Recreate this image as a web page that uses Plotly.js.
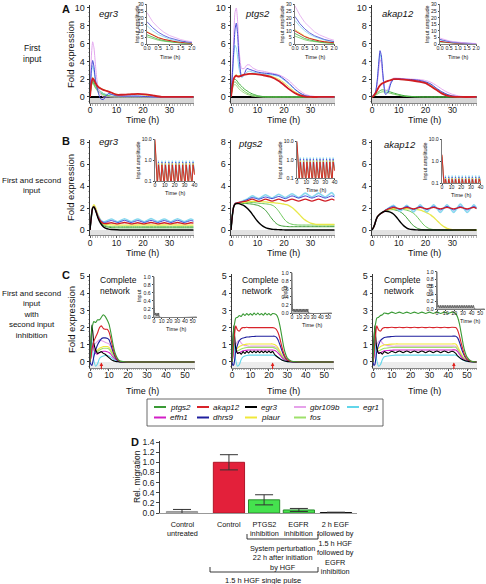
<!DOCTYPE html>
<html><head><meta charset="utf-8">
<script src="https://cdn.plot.ly/plotly-3.0.1.min.js"></script>
<style>html,body{margin:0;padding:0;background:#fff}#chart{width:486px;height:584px}</style>
</head><body><div id="chart"></div>
<script>
// ================= DATA =================
// Panel A (first input) - time points and curves
const tA1 = [0,0.5,1,1.5,2,2.5,3,4,5,6,7,8,10,12,15,18,21,24,27,30,39];
const pinkA1 = [0,4.5,6.2,5.5,3.8,2.2,1.2,0.3,0,0,0,0,0,0,0,0,0,0,0,0,0];
const blueA1 = [0,3.0,4.1,3.4,2.0,1.2,0.6,-0.2,-0.3,0.1,0.4,0.3,0.15,0.1,0.1,0.1,0.05,0,0,0,0];
const cyanA1 = [0,2.6,3.5,2.9,2.0,1.4,1.0,0.6,0.4,0.3,0.3,0.25,0.15,0.1,0.1,0.1,0.05,0,0,0,0];
const yellowA1 = [0,1.6,2.2,2.0,1.7,1.4,1.2,1.0,0.85,0.75,0.6,0.5,0.3,0.25,0.3,0.3,0.2,0.1,0.02,0,0];
const redA1 = [0,1.5,2.1,1.9,1.6,1.35,1.15,0.95,0.8,0.7,0.6,0.5,0.25,0.25,0.3,0.35,0.3,0.15,0.02,0,0];
const green1A1 = [0,1.4,1.9,1.6,1.3,1.1,0.9,0.6,0.4,0.25,0.15,0.08,0.02,0,0,0,0,0,0,0,0];
const green2A1 = [0,1.3,1.7,1.4,1.1,0.9,0.7,0.45,0.3,0.15,0.08,0.04,0,0,0,0,0,0,0,0,0];
const green3A1 = [0,1.2,1.6,1.3,1.0,0.8,0.6,0.35,0.2,0.1,0.05,0.02,0,0,0,0,0,0,0,0,0];

const tA2 = [0,0.5,1,1.5,2,2.5,3,4,5,6,7,8,10,12,15,18,20,22,24,26,28,30,33,39];
const pinkA2 = [0,3,6.5,9.5,10,8.5,5.5,3.2,3.2,3.6,3.6,3.3,3.0,2.9,2.7,2.5,2.2,1.8,1.2,0.7,0.3,0.12,0.02,0];
const blueA2 = [0,2.5,5,7.5,8.3,7,4.5,2.3,2.6,3.2,3.1,3.0,2.8,2.7,2.6,2.4,2.0,1.5,0.9,0.45,0.15,0.05,0,0];
const cyanA2 = [0,2,4.5,5.8,5.5,4.5,3.2,2.2,2.4,2.8,2.9,2.8,2.7,2.6,2.5,2.3,1.9,1.4,0.85,0.4,0.12,0.04,0,0];
const redA2 = [0,1.2,2.0,2.3,2.4,2.3,2.3,2.4,2.5,2.55,2.6,2.6,2.55,2.45,2.25,1.8,1.35,0.85,0.45,0.18,0.05,0,0,0];
const yellowA2 = [0,1.3,2.1,2.4,2.5,2.4,2.4,2.45,2.5,2.55,2.6,2.6,2.55,2.5,2.35,2.0,1.6,1.1,0.6,0.25,0.08,0.02,0,0];
const green1A2 = [0,1.2,1.9,2.0,1.9,1.7,1.5,1.2,0.9,0.7,0.5,0.35,0.15,0.05,0,0,0,0,0,0,0,0,0,0];
const green2A2 = [0,1.0,1.6,1.7,1.6,1.4,1.2,0.9,0.65,0.45,0.3,0.2,0.08,0.02,0,0,0,0,0,0,0,0,0,0];
const green3A2 = [0,0.8,1.3,1.4,1.3,1.1,0.9,0.65,0.45,0.3,0.2,0.1,0.03,0,0,0,0,0,0,0,0,0,0,0];

const tA3 = [0,0.5,1,1.5,2,2.5,3,3.5,4,4.5,5,6,7,8,10,12,15,18,20,22,24,26,28,30,33,39];
const blueA3 = [0,0.2,0.3,0.8,2.0,3.8,5.2,4.6,2.8,1.2,0.3,0.5,1.5,2.0,2.05,2.0,1.95,1.85,1.7,1.45,1.0,0.6,0.3,0.12,0.02,0];
const cyanA3 = [0,0.2,0.3,0.8,1.9,3.5,4.8,4.2,2.6,1.2,0.5,0.7,1.5,1.95,2.0,1.95,1.9,1.8,1.65,1.4,0.95,0.55,0.28,0.1,0.02,0];
const pinkA3 = [0,0.15,0.3,0.7,1.6,3.0,4.2,3.8,2.4,1.2,0.7,0.9,1.7,2.1,2.1,2.05,2.0,1.95,1.85,1.65,1.3,0.9,0.55,0.3,0.08,0];
const redA3 = [0,0.1,0.3,0.5,0.8,1.1,1.3,1.45,1.55,1.6,1.7,1.8,1.9,2.0,2.0,1.95,1.85,1.7,1.55,1.2,0.8,0.4,0.15,0.05,0,0];
const yellowA3 = [0,0.1,0.3,0.5,0.8,1.1,1.3,1.45,1.55,1.6,1.7,1.8,1.9,2.0,2.0,1.95,1.85,1.75,1.6,1.3,0.9,0.5,0.2,0.07,0,0];
const green1A3 = [0,0.1,0.2,0.3,0.45,0.6,0.7,0.78,0.8,0.78,0.75,0.65,0.55,0.45,0.28,0.15,0.05,0.01,0,0,0,0,0,0,0,0];
const green2A3 = [0,0.08,0.15,0.22,0.32,0.42,0.5,0.55,0.58,0.57,0.55,0.48,0.4,0.32,0.18,0.08,0.02,0,0,0,0,0,0,0,0,0];

// Panel A insets (input amplitude)
const tAi = [0,0.25,0.5,0.75,1,1.25,1.5,1.75,2];
const pinkAi1 = [24,17,12.5,9,6.5,4.8,3.4,2.4,1.7];
const blueAi1 = [17,12.5,9,6.5,4.7,3.4,2.4,1.7,1.2];
const cyanAi1 = [14,10,7.2,5.2,3.7,2.7,1.9,1.4,1.0];
const yellowAi1 = [9.5,7,5,3.6,2.6,1.9,1.35,1,0.7];
const redAi1 = [9,6.6,4.8,3.5,2.5,1.8,1.3,0.9,0.6];
const greenAi1 = [7,5,3.6,2.6,1.8,1.3,0.9,0.65,0.45];
const green2Ai1 = [5.5,4,2.9,2.1,1.5,1.05,0.75,0.55,0.4];
const pinkAi2 = [29,22,16.5,12.5,9.3,7,5.2,3.9,2.9];
const blueAi2 = [21,15.5,11.5,8.5,6.3,4.7,3.5,2.6,1.9];
const cyanAi2 = [18,13.5,10,7.4,5.5,4.1,3,2.2,1.7];
const yellowAi2 = [11,8.2,6.1,4.5,3.4,2.5,1.9,1.4,1];
const redAi2 = [10,7.5,5.6,4.2,3.1,2.3,1.7,1.3,1];
const greenAi2 = [8,5.8,4.2,3.1,2.2,1.6,1.2,0.85,0.6];
const green2Ai2 = [6,4.4,3.2,2.3,1.7,1.2,0.9,0.65,0.45];
const pinkAi3 = [4.5,3.3,2.4,1.8,1.3,1,0.7,0.5,0.4];
const blueAi3 = [3.5,2.6,1.9,1.4,1,0.75,0.55,0.4,0.3];
const cyanAi3 = [3,2.2,1.6,1.2,0.9,0.65,0.48,0.35,0.25];
const redAi3 = [2,1.5,1.1,0.8,0.6,0.45,0.32,0.24,0.18];
const greenAi3 = [1.5,1.1,0.8,0.6,0.44,0.32,0.24,0.18,0.13];

// Panel B (first and second input)
const tBo = [0,0.5,1,1.5,2,3,4,5,6,8,10.5,13,15.5,18,20.5,23,25.5,28,30.5,33,35.5,38,39];
const cyanB1 = [0,1.2,2.0,2.1,1.9,1.3,0.9,0.75,0.8,1.0,0.75,1.02,0.76,1.0,0.75,1.03,0.76,1.0,0.75,1.02,0.76,1.0,0.9];
const blueB1 = [0,1.2,2.0,2.1,1.9,1.3,0.85,0.7,0.7,0.86,0.68,0.88,0.68,0.86,0.68,0.88,0.68,0.86,0.68,0.88,0.68,0.86,0.8];
const redB1 = [0,1.2,2.0,2.1,1.9,1.2,0.8,0.6,0.58,0.66,0.55,0.68,0.55,0.66,0.55,0.68,0.55,0.66,0.55,0.68,0.55,0.66,0.62];
const tBd = [0,0.5,1,1.5,2,3,4,5,6,7,8,10,12,15,20,25,30,35,39];
const yellowB1 = [0,1.3,2.1,2.3,2.1,1.4,0.9,0.6,0.5,0.48,0.46,0.45,0.44,0.45,0.46,0.45,0.46,0.45,0.45];
const greenB1 = [0,1.2,2.0,2.1,1.9,1.2,0.75,0.5,0.38,0.33,0.3,0.3,0.3,0.3,0.3,0.3,0.3,0.3,0.3];
const dkgreenB1 = [0,1.2,2.0,2.1,1.9,1.15,0.7,0.42,0.3,0.25,0.22,0.2,0.2,0.2,0.2,0.2,0.2,0.2,0.2];
const blackB1 = [0,1.2,2.0,2.1,1.85,1.1,0.6,0.3,0.15,0.08,0.05,0.02,0,0,0,0,0,0,0];

const cyanB2 = [0,1.3,2.1,2.4,2.45,2.5,2.6,2.7,2.8,3.1,2.85,3.2,2.9,3.25,2.95,3.3,2.95,3.35,3.0,3.35,3.0,3.4,3.1];
const blueB2 = [0,1.3,2.1,2.4,2.45,2.5,2.55,2.65,2.75,2.95,2.8,3.0,2.85,3.05,2.85,3.1,2.9,3.1,2.9,3.1,2.9,3.1,3.0];
const redB2 = [0,1.3,2.1,2.4,2.45,2.5,2.55,2.6,2.65,2.8,2.6,2.8,2.62,2.8,2.62,2.8,2.62,2.8,2.62,2.8,2.62,2.8,2.7];
const tBd2 = [0,0.5,1,1.5,2,3,4,5,6,7,8,9,10,11,12,13,14,15,16,17,18,19,20,21,22,23,24,25,26,27,28,29,30,32,34,36,39];
const blackB2 = [0,1.3,2.1,2.35,2.4,2.4,2.3,2.2,2.0,1.75,1.45,1.1,0.8,0.55,0.35,0.22,0.14,0.09,0.06,0.04,0.03,0.02,0.01,0,0,0,0,0,0,0,0,0,0,0,0,0,0];
const dkgreenB2 = [0,1.3,2.1,2.35,2.4,2.42,2.42,2.42,2.4,2.38,2.35,2.3,2.25,2.15,2.0,1.8,1.5,1.15,0.85,0.6,0.45,0.38,0.34,0.32,0.3,0.3,0.3,0.3,0.3,0.3,0.3,0.3,0.3,0.3,0.3,0.3,0.3];
const greenB2 = [0,1.3,2.1,2.35,2.4,2.45,2.45,2.48,2.5,2.5,2.5,2.48,2.45,2.42,2.4,2.38,2.35,2.3,2.2,2.0,1.7,1.35,1.0,0.75,0.6,0.52,0.48,0.46,0.45,0.45,0.45,0.45,0.45,0.45,0.45,0.45,0.45];
const yellowB2 = [0,1.3,2.1,2.35,2.4,2.45,2.5,2.52,2.55,2.58,2.6,2.6,2.6,2.58,2.56,2.55,2.52,2.5,2.48,2.45,2.42,2.4,2.35,2.3,2.2,2.05,1.85,1.6,1.35,1.1,0.9,0.75,0.62,0.52,0.5,0.5,0.5];

const cyanB3 = [0,0.2,0.5,0.9,1.2,1.45,1.6,1.8,1.95,2.25,1.7,2.25,1.65,2.3,1.65,2.3,1.6,2.3,1.6,2.35,1.6,2.3,2.0];
const blueB3 = [0,0.2,0.5,0.9,1.2,1.45,1.6,1.8,1.95,2.15,1.85,2.15,1.85,2.15,1.85,2.15,1.82,2.15,1.82,2.15,1.82,2.15,2.0];
const redB3 = [0,0.2,0.5,0.9,1.2,1.45,1.6,1.8,1.9,2.05,1.92,2.05,1.92,2.05,1.92,2.05,1.92,2.05,1.92,2.05,1.92,2.05,1.95];
const blackB3 = [0,0.2,0.5,0.9,1.2,1.45,1.62,1.7,1.68,1.6,1.45,1.2,0.9,0.6,0.35,0.18,0.08,0.04,0.02,0.01,0,0,0,0,0,0,0,0,0,0,0,0,0,0,0,0,0];
const dkgreenB3 = [0,0.2,0.5,0.9,1.2,1.45,1.62,1.75,1.82,1.85,1.85,1.8,1.72,1.58,1.38,1.1,0.8,0.5,0.3,0.15,0.07,0.03,0.01,0,0,0,0,0,0,0,0,0,0,0,0,0,0];
const greenB3 = [0,0.2,0.5,0.9,1.2,1.45,1.62,1.75,1.85,1.9,1.92,1.92,1.9,1.88,1.85,1.8,1.72,1.6,1.42,1.15,0.85,0.55,0.32,0.17,0.08,0.04,0.02,0.01,0,0,0,0,0,0,0,0,0];
const yellowB3 = [0,0.2,0.5,0.9,1.2,1.45,1.62,1.75,1.85,1.9,1.92,1.95,1.95,1.95,1.95,1.93,1.92,1.9,1.88,1.85,1.8,1.72,1.62,1.5,1.35,1.15,0.92,0.68,0.45,0.28,0.15,0.08,0.04,0.01,0,0,0];

// Panel B insets (input amplitude, log)
const tBi = [0,2.4,3.5,5.9,7,9.4,10.5,12.9,14,16.4,17.5,19.9,21,23.4,24.5,26.9,28,30.4,31.5,33.9,35,37.4,38.5,40];
const redBi1 = [10,0.06,0.6,0.06,0.6,0.06,0.6,0.06,0.6,0.06,0.6,0.06,0.6,0.06,0.6,0.06,0.6,0.06,0.6,0.06,0.6,0.06,0.6,0.2];
const yellowBi1 = [8,0.06,0.72,0.06,0.72,0.06,0.72,0.06,0.72,0.06,0.72,0.06,0.72,0.06,0.72,0.06,0.72,0.06,0.72,0.06,0.72,0.06,0.72,0.22];
const blueBi1 = [6,0.07,0.82,0.07,0.82,0.07,0.82,0.07,0.82,0.07,0.82,0.07,0.82,0.07,0.82,0.07,0.82,0.07,0.82,0.07,0.82,0.07,0.82,0.25];
const cyanBi1 = [5,0.08,0.95,0.08,0.95,0.08,0.95,0.08,0.95,0.08,0.95,0.08,0.95,0.08,0.95,0.08,0.95,0.08,0.95,0.08,0.95,0.08,0.95,0.3];
const redBi2 = [10,0.06,0.75,0.06,0.75,0.06,0.75,0.06,0.75,0.06,0.75,0.06,0.75,0.06,0.75,0.06,0.75,0.06,0.75,0.06,0.75,0.06,0.75,0.25];
const yellowBi2 = [8,0.06,0.9,0.06,0.9,0.06,0.9,0.06,0.9,0.06,0.9,0.06,0.9,0.06,0.9,0.06,0.9,0.06,0.9,0.06,0.9,0.06,0.9,0.28];
const blueBi2 = [6,0.07,1.1,0.07,1.1,0.07,1.1,0.07,1.1,0.07,1.1,0.07,1.1,0.07,1.1,0.07,1.1,0.07,1.1,0.07,1.1,0.07,1.1,0.32];
const cyanBi2 = [5,0.08,1.3,0.08,1.3,0.08,1.3,0.08,1.3,0.08,1.3,0.08,1.3,0.08,1.3,0.08,1.3,0.08,1.3,0.08,1.3,0.08,1.3,0.36];
const redBi3 = [2,0.05,0.15,0.05,0.15,0.05,0.15,0.05,0.15,0.05,0.15,0.05,0.15,0.05,0.15,0.05,0.15,0.05,0.15,0.05,0.15,0.05,0.15,0.1];
const yellowBi3 = [1.8,0.05,0.17,0.05,0.17,0.05,0.17,0.05,0.17,0.05,0.17,0.05,0.17,0.05,0.17,0.05,0.17,0.05,0.17,0.05,0.17,0.05,0.17,0.11];
const blueBi3 = [1.6,0.05,0.19,0.05,0.19,0.05,0.19,0.05,0.19,0.05,0.19,0.05,0.19,0.05,0.19,0.05,0.19,0.05,0.19,0.05,0.19,0.05,0.19,0.12];
const cyanBi3 = [1.5,0.05,0.22,0.05,0.22,0.05,0.22,0.05,0.22,0.05,0.22,0.05,0.22,0.05,0.22,0.05,0.22,0.05,0.22,0.05,0.22,0.05,0.22,0.13];

// Panel C (complete network, second input inhibited)
const tC1 = [0,0.5,1,1.5,2,3,4,5,6,7,8,9,10,11,12,13,14,15,16,18,20,30,40,55];
const ptgs2C1 = [0,1.2,1.9,2.2,2.35,2.3,2.45,2.45,2.6,2.75,2.65,2.45,2.2,1.7,1.1,0.6,0.3,0.12,0.05,0.01,0,0,0,0];
const akap12C1 = [0,0.3,0.7,1.0,1.2,1.45,1.7,2.0,2.1,1.95,1.9,1.9,1.75,1.35,0.85,0.45,0.2,0.08,0.03,0.01,0,0,0,0];
const dhrs9C1 = [0,-0.15,-0.2,0,0.3,0.7,1.0,1.2,1.35,1.4,1.4,1.38,1.3,1.0,0.65,0.35,0.15,0.06,0.02,0,0,0,0,0];
const egr3C1 = [0,1.2,2.15,1.7,1.1,0.7,0.5,0.55,0.6,0.5,0.45,0.35,0.25,0.15,0.08,0.04,0.02,0.01,0,0,0,0,0,0];
const gbr109bC1 = [0,0.3,0.6,0.8,1.0,1.1,1.2,1.3,1.25,1.2,1.15,1.1,1.05,0.85,0.6,0.35,0.17,0.07,0.02,0,0,0,0,0];
const plaurC1 = [0,0.4,0.9,0.8,0.7,0.65,0.7,0.8,0.85,0.9,0.9,0.9,0.85,0.7,0.5,0.3,0.15,0.06,0.02,0,0,0,0,0];
const fosC1 = [0,0.5,1.0,0.9,0.7,0.6,0.6,0.7,0.75,0.8,0.8,0.8,0.75,0.6,0.42,0.25,0.12,0.05,0.02,0,0,0,0,0];
const effn1C1 = [0,0.3,0.9,1.1,0.8,0.5,0.45,0.55,0.6,0.62,0.62,0.6,0.55,0.45,0.3,0.18,0.08,0.03,0.01,0,0,0,0,0];
const egr1C1 = [0,0.8,1.3,0.6,0.1,-0.25,-0.1,0.2,0.3,0.35,0.38,0.38,0.35,0.28,0.18,0.1,0.05,0.02,0,0,0,0,0,0];

const tC2 = [0,0.5,1,1.5,2,3,4,5,6,7,8,9,10,11,12,13,14,15,16,17,18,19,20,21,22,23,24,25,26,27,28,29,30,32,35,40,55];
const ptgs2C2 = [0,1.2,2.0,2.3,2.55,2.6,2.7,2.65,2.8,2.7,2.82,2.72,2.82,2.72,2.84,2.74,2.84,2.74,2.82,2.72,2.84,2.74,2.82,2.72,2.82,2.8,2.75,2.55,2.1,1.5,0.9,0.48,0.22,0.06,0.01,0,0];
const akap12C2 = [0,0.5,1.2,1.7,2.1,1.85,1.8,1.95,2.0,2.0,2.02,2.0,2.0,2.0,2.0,2.0,2.0,2.0,2.0,2.0,2.0,2.0,2.0,2.0,2.0,1.98,1.9,1.7,1.35,0.9,0.52,0.27,0.12,0.03,0.01,0,0];
const dhrs9C2 = [0,-0.2,-0.15,0.2,0.6,1.0,1.25,1.35,1.4,1.42,1.45,1.45,1.47,1.48,1.48,1.5,1.5,1.5,1.5,1.5,1.5,1.5,1.5,1.5,1.5,1.5,1.45,1.28,1.0,0.68,0.4,0.2,0.09,0.02,0,0,0];
const egr3C2 = [0,1.3,2.1,1.4,0.8,0.5,0.55,0.45,0.6,0.5,0.62,0.52,0.64,0.54,0.64,0.54,0.64,0.54,0.64,0.54,0.64,0.54,0.64,0.54,0.62,0.45,0.35,0.26,0.18,0.12,0.07,0.04,0.02,0.01,0,0,0];
const gbr109bC2 = [0,0.3,0.6,0.8,1.0,1.2,1.25,1.1,1.0,0.95,0.95,0.92,0.92,0.92,0.92,0.92,0.92,0.92,0.92,0.92,0.92,0.92,0.92,0.92,0.92,0.9,0.85,0.75,0.58,0.4,0.24,0.12,0.06,0.01,0,0,0];
const plaurC2 = [0,0.4,0.9,0.8,0.75,0.8,0.9,0.95,1.0,1.02,1.04,1.05,1.05,1.05,1.05,1.05,1.05,1.05,1.05,1.05,1.05,1.05,1.05,1.05,1.05,1.02,0.95,0.82,0.62,0.42,0.25,0.13,0.06,0.01,0,0,0];
const fosC2 = [0,0.5,1.0,0.85,0.7,0.65,0.7,0.75,0.8,0.82,0.84,0.85,0.85,0.85,0.85,0.85,0.85,0.85,0.85,0.85,0.85,0.85,0.85,0.85,0.85,0.82,0.76,0.65,0.5,0.34,0.2,0.1,0.05,0.01,0,0,0];
const effn1C2 = [0,0.3,0.9,1.1,0.8,0.55,0.55,0.6,0.65,0.67,0.68,0.7,0.7,0.7,0.7,0.7,0.7,0.7,0.7,0.7,0.7,0.7,0.7,0.7,0.7,0.68,0.62,0.52,0.4,0.27,0.16,0.08,0.04,0.01,0,0,0];
const egr1C2 = [0,0.8,1.3,0.6,0.1,-0.25,-0.15,0.15,0.3,0.35,0.38,0.4,0.4,0.4,0.4,0.4,0.4,0.4,0.4,0.4,0.4,0.4,0.4,0.4,0.4,0.38,0.34,0.28,0.2,0.13,0.08,0.04,0.02,0,0,0,0];

const tC3 = [0,0.5,1,1.5,2,3,4,5,6,8,10,12,14,16,18,20,22,24,26,28,30,32,34,36,38,40,42,44,45,46,47,48,49,50,52,55];
const ptgs2C3 = [0,1.2,2.0,2.3,2.55,2.6,2.7,2.75,2.85,2.8,2.9,2.82,2.9,2.82,2.9,2.82,2.9,2.82,2.9,2.82,2.9,2.82,2.9,2.82,2.9,2.82,2.9,2.82,2.6,2.2,1.6,1.0,0.55,0.28,0.06,0];
const akap12C3 = [0,0.5,1.2,1.7,2.1,1.85,1.8,1.95,2.0,2.0,2.02,2.0,2.02,2.0,2.02,2.0,2.02,2.0,2.02,2.0,2.02,2.0,2.02,2.0,2.02,2.0,2.02,2.0,1.85,1.5,1.05,0.65,0.35,0.18,0.04,0];
const dhrs9C3 = [0,-0.2,-0.15,0.2,0.6,1.0,1.25,1.35,1.42,1.46,1.48,1.5,1.5,1.5,1.5,1.5,1.5,1.5,1.5,1.5,1.5,1.5,1.5,1.5,1.5,1.5,1.5,1.5,1.4,1.15,0.8,0.5,0.28,0.14,0.03,0];
const egr3C3 = [0,1.3,2.1,1.4,0.8,0.5,0.55,0.45,0.6,0.5,0.62,0.54,0.64,0.54,0.64,0.54,0.64,0.54,0.64,0.54,0.64,0.54,0.64,0.54,0.64,0.54,0.62,0.5,0.35,0.25,0.17,0.11,0.07,0.04,0.01,0];
const gbr109bC3 = [0,0.3,0.6,0.8,1.0,1.2,1.25,1.1,1.0,0.95,0.92,0.92,0.92,0.92,0.92,0.92,0.92,0.92,0.92,0.92,0.92,0.92,0.92,0.92,0.92,0.92,0.92,0.92,0.8,0.6,0.4,0.25,0.14,0.07,0.02,0];
const plaurC3 = [0,0.4,0.9,0.8,0.75,0.8,0.9,0.95,1.0,1.02,1.04,1.05,1.05,1.05,1.05,1.05,1.05,1.05,1.05,1.05,1.05,1.05,1.05,1.05,1.05,1.05,1.05,1.05,0.9,0.68,0.46,0.28,0.16,0.08,0.02,0];
const fosC3 = [0,0.5,1.0,0.85,0.7,0.65,0.7,0.75,0.8,0.82,0.84,0.85,0.85,0.85,0.85,0.85,0.85,0.85,0.85,0.85,0.85,0.85,0.85,0.85,0.85,0.85,0.85,0.85,0.72,0.55,0.37,0.22,0.12,0.06,0.01,0];
const effn1C3 = [0,0.3,0.9,1.1,0.8,0.55,0.55,0.6,0.65,0.67,0.68,0.7,0.7,0.7,0.7,0.7,0.7,0.7,0.7,0.7,0.7,0.7,0.7,0.7,0.7,0.7,0.7,0.7,0.6,0.45,0.3,0.18,0.1,0.05,0.01,0];
const egr1C3 = [0,0.8,1.3,0.6,0.1,-0.25,-0.15,0.15,0.3,0.35,0.38,0.4,0.4,0.4,0.4,0.4,0.4,0.4,0.4,0.4,0.4,0.4,0.4,0.4,0.4,0.4,0.4,0.4,0.34,0.26,0.17,0.1,0.06,0.03,0.01,0];
const inhibitTimes = [6, 22, 43];

// Panel C insets (input)
const tCi1 = [0,0.3,1,2,3,4,5,6,7,55];
const inCi1 = [1.0,0.35,0.05,0.1,0.03,0.1,0.03,0.1,0,0];
const tCi2 = [0,0.3,1,2,3,4,5,6,7,8,9,10,11,12,13,14,15,16,17,18,19,20,21,22,23,55];
const inCi2 = [1.0,0.35,0.05,0.1,0.03,0.1,0.03,0.1,0.03,0.1,0.03,0.1,0.03,0.1,0.03,0.1,0.03,0.1,0.03,0.1,0.03,0.1,0.03,0.1,0,0];
const tCi3 = [0,0.3,1,2,3,4,5,6,7,8,9,10,11,12,13,14,15,16,17,18,19,20,21,22,23,24,25,26,27,28,29,30,31,32,33,34,35,36,37,38,39,40,41,42,43,44,55];
const inCi3 = [1.0,0.35,0.05,0.1,0.03,0.1,0.03,0.1,0.03,0.1,0.03,0.1,0.03,0.1,0.03,0.1,0.03,0.1,0.03,0.1,0.03,0.1,0.03,0.1,0.03,0.1,0.03,0.1,0.03,0.1,0.03,0.1,0.03,0.1,0.03,0.1,0.03,0.1,0.03,0.1,0.03,0.1,0.03,0.1,0.03,0,0];

// Legend genes
const legendRow1 = ['ptgs2','akap12','egr3','gbr109b','egr1'];
const legendRow2 = ['effn1','dhrs9','plaur','fos'];

// Panel D (relative migration)
const dLabels = ['Control<br>untreated','Control','PTGS2<br>inhibition','EGFR<br>inhibition','2 h EGF<br>followed by<br>1.5 h HGF<br>followed by<br>EGFR<br>inhibition'];
const dValues = [0.03, 1.0, 0.26, 0.06, 0.01];
const dErrors = [0.04, 0.15, 0.1, 0.03, 0.006];

// ================= STYLE / LAYOUT =================
const W = 486, H = 584;
const FONT = 'Liberation Sans, Arial, Helvetica, sans-serif';
const GC = {ptgs2:'#3a9a35', akap12:'#d8232a', egr3:'#000000', gbr109b:'#e6a2ea', egr1:'#62d6ea',
            effn1:'#d21fc6', dhrs9:'#1f1f9e', plaur:'#f0e83a', fos:'#9ee06a'};
const AC = {pink:'#e2a4ee', blue:'#4545d4', cyan:'#88d8ef', red:'#d01c24', yellow:'#e8e84a',
            g1:'#3fae3a', g2:'#6cc85a', g3:'#a0da86', dk:'#3c9c36', black:'#000'};
const fx = p => p / W;
const fy = p => 1 - p / H;
const sfx = n => (n === 1 ? '' : String(n));

const traces = [];
const L = {
  width: W, height: H, margin: {l:0, r:0, t:0, b:0},
  paper_bgcolor: '#fff', plot_bgcolor: 'rgba(0,0,0,0)',
  showlegend: false, hovermode: false,
  font: {family: FONT, size: 9, color: '#111'},
  shapes: [], annotations: []
};

function addLines(n, t, list, shape) {
  list.forEach(s => traces.push({
    type: 'scatter', mode: 'lines', x: t, y: s[0],
    xaxis: 'x' + sfx(n), yaxis: 'y' + sfx(n),
    line: {color: s[1], width: s[2] || 1, shape: shape || 'spline', smoothing: 0.6},
    hoverinfo: 'skip', cliponaxis: true
  }));
}

function mainAxes(n, xpx, ypx, xr, yr, xdt, ydt, band, bandColor, zero) {
  L['xaxis' + sfx(n)] = {
    domain: [fx(xpx[0]), fx(xpx[1])], range: xr, anchor: 'y' + sfx(n),
    showline: true, linecolor: '#666', linewidth: 0.8, ticks: 'outside', ticklen: 2, tickcolor: '#555',
    tick0: 0, dtick: xdt, tickfont: {size: 8.5, color:'#222'}, showgrid: false, zeroline: false,
    ticklabelstandoff: -3,
    minor: {ticks: 'outside', ticklen: 1.5, dtick: xdt / 10, tickcolor: '#888', tickwidth: 0.6}
  };
  L['yaxis' + sfx(n)] = {
    domain: [fy(ypx[1]), fy(ypx[0])], range: yr, anchor: 'x' + sfx(n),
    showline: true, linecolor: '#222', linewidth: 0.9, ticks: 'outside', ticklen: 2.5, tickcolor: '#333',
    tick0: 0, dtick: ydt, tickfont: {size: 9, color:'#222'}, showgrid: false,
    zeroline: !!zero, zerolinecolor: '#000', zerolinewidth: 1.8,
    minor: {ticks: 'outside', ticklen: 1.5, dtick: ydt / 4, tickcolor: '#888', tickwidth: 0.6}
  };
  L.shapes.push({type: 'rect', xref: 'x' + sfx(n) + ' domain', yref: 'y' + sfx(n),
    x0: 0, x1: 1, y0: band, y1: 0, fillcolor: bandColor, line: {width: 0}, layer: 'below'});
}

function insetAxes(n, xpx, ypx, xopts, yopts) {
  L['xaxis' + sfx(n)] = Object.assign({
    domain: [fx(xpx[0]), fx(xpx[1])], anchor: 'y' + sfx(n),
    showline: true, linecolor: '#444', linewidth: 0.7, ticks: 'outside', ticklen: 1.5, tickcolor: '#444',
    tickfont: {size: 5.2, color:'#222'}, showgrid: false, zeroline: false, tickangle: 0, ticklabelstandoff: -2
  }, xopts);
  L['yaxis' + sfx(n)] = Object.assign({
    domain: [fy(ypx[1]), fy(ypx[0])], anchor: 'x' + sfx(n),
    showline: true, linecolor: '#444', linewidth: 0.7, ticks: 'outside', ticklen: 1.5, tickcolor: '#444',
    tickfont: {size: 5.2, color:'#222'}, showgrid: false, zeroline: false
  }, yopts);
}

function txt(x, y, text, o) {
  o = o || {};
  L.annotations.push({
    xref: 'paper', yref: 'paper', x: fx(x), y: fy(y), text: text, showarrow: false,
    xanchor: o.xa || 'center', yanchor: o.ya || 'middle', textangle: o.ang || 0,
    font: {family: FONT, size: o.size || 9, color: o.color || '#111'}, align: o.align || 'center'
  });
}

// ---------- Main panels ----------
const colsAB = [[90,194],[231,335],[372,477]];
const colsC = [[90,195],[232,334],[373,477]];
for (let i = 0; i < 3; i++) {
  mainAxes(1 + i, colsAB[i], [5.3,103.2], [0,39.2], [-0.7,10.3], 10, 2, -0.7, '#d6d6d6', true);
  mainAxes(4 + i, colsAB[i], [139.8,235.5], [0,39.2], [-0.5,8.2], 10, 2, -0.5, '#e2e2e2', false);
  mainAxes(7 + i, colsC[i], [274.3,368], [0,55.3], [-0.35,5.1], 10, 1, -0.35, '#ececec', false);
}
addLines(1, tA1, [[green3A1,AC.g3],[green2A1,AC.g2],[green1A1,AC.g1],[yellowA1,AC.yellow],[cyanA1,AC.cyan],[pinkA1,AC.pink],[blueA1,AC.blue],[redA1,AC.red,1.8]]);
addLines(2, tA2, [[green3A2,AC.g3],[green2A2,AC.g2],[green1A2,AC.g1],[yellowA2,AC.yellow],[cyanA2,AC.cyan],[pinkA2,AC.pink],[blueA2,AC.blue],[redA2,AC.red,1.8]]);
addLines(3, tA3, [[green2A3,AC.g2],[green1A3,AC.g1],[yellowA3,AC.yellow],[cyanA3,AC.cyan],[pinkA3,AC.pink],[blueA3,AC.blue],[redA3,AC.red,1.8]]);

addLines(4, tBd, [[dkgreenB1,AC.dk],[greenB1,AC.g2],[yellowB1,AC.yellow,1.3]]);
addLines(4, tBo, [[cyanB1,AC.cyan,1.6],[blueB1,AC.blue],[redB1,AC.red,1.3]]);
addLines(4, tBd, [[blackB1,AC.black,1.4]]);
addLines(5, tBd2, [[dkgreenB2,AC.dk],[greenB2,AC.g2],[yellowB2,AC.yellow,1.3]]);
addLines(5, tBo, [[cyanB2,AC.cyan,1.6],[blueB2,AC.blue],[redB2,AC.red,1.3]]);
addLines(5, tBd2, [[blackB2,AC.black,1.4]]);
addLines(6, tBd2, [[dkgreenB3,AC.dk],[greenB3,AC.g2],[yellowB3,AC.yellow,1.3]]);
addLines(6, tBo, [[cyanB3,AC.cyan,1.6],[blueB3,AC.blue],[redB3,AC.red,1.3]]);
addLines(6, tBd2, [[blackB3,AC.black,1.4]]);

const cSets = [
  [tC1, gbr109bC1, plaurC1, fosC1, effn1C1, egr1C1, dhrs9C1, egr3C1, akap12C1, ptgs2C1],
  [tC2, gbr109bC2, plaurC2, fosC2, effn1C2, egr1C2, dhrs9C2, egr3C2, akap12C2, ptgs2C2],
  [tC3, gbr109bC3, plaurC3, fosC3, effn1C3, egr1C3, dhrs9C3, egr3C3, akap12C3, ptgs2C3]
];
const cCols = [GC.gbr109b, GC.plaur, GC.fos, GC.effn1, GC.egr1, GC.dhrs9, GC.egr3, GC.akap12, GC.ptgs2];
cSets.forEach((s, i) => {
  addLines(7 + i, s[0], s.slice(1).map((y, k) => [y, cCols[k], 1.1]));
  L.annotations.push({xref: 'x' + (7 + i), yref: 'y' + (7 + i), x: inhibitTimes[i], y: -0.03,
    ax: 0, ay: 8, showarrow: true, arrowhead: 2, arrowsize: 0.6, arrowwidth: 1.2, arrowcolor: '#e0201c', text: ''});
});

// ---------- Insets ----------
const aInX = [[147,193],[295,335],[440,477]];
const bInX = [[155,195],[297,335],[442,481]];
const bInY = [[139,181],[141,178],[139,183]];
const cInX = [[154,197],[292,332],[437,485]];
const cInY = [[276,317],[272,313],[271,309]];
for (let i = 0; i < 3; i++) {
  insetAxes(10 + i, aInX[i], [4,44], {range: [0,2.05], tickvals: [0,0.5,1,1.5,2], ticktext: ['0.0','0.5','1.0','1.5','2.0']},
    {range: [0,30.5], tick0: 0, dtick: 5});
  insetAxes(13 + i, bInX[i], bInY[i], {range: [0,40.5], tick0: 0, dtick: 10},
    {type: 'log', range: [-1,1.02], tickvals: [0.1,1,10], ticktext: ['0.1','1.0','10.0']});
  insetAxes(16 + i, cInX[i], cInY[i], {range: [0,55.5], tick0: 0, dtick: 10},
    {range: [0,1.02], tick0: 0, dtick: 0.2, tickformat: '.1f'});
}
addLines(10, tAi, [[green2Ai1,AC.g2,0.8],[greenAi1,AC.g1,0.8],[yellowAi1,AC.yellow,0.8],[redAi1,AC.red,1],[cyanAi1,AC.cyan,0.8],[blueAi1,AC.blue,0.8],[pinkAi1,AC.pink,0.8]], 'linear');
addLines(11, tAi, [[green2Ai2,AC.g2,0.8],[greenAi2,AC.g1,0.8],[yellowAi2,AC.yellow,0.8],[redAi2,AC.red,1],[cyanAi2,AC.cyan,0.8],[blueAi2,AC.blue,0.8],[pinkAi2,AC.pink,0.8]], 'linear');
addLines(12, tAi, [[greenAi3,AC.g1,0.8],[redAi3,AC.red,1],[cyanAi3,AC.cyan,0.8],[blueAi3,AC.blue,0.8],[pinkAi3,AC.pink,0.8]], 'linear');
addLines(13, tBi, [[cyanBi1,AC.cyan,0.8],[blueBi1,AC.blue,0.7],[yellowBi1,AC.yellow,0.8],[redBi1,AC.red,0.9]], 'linear');
addLines(14, tBi, [[cyanBi2,AC.cyan,0.8],[blueBi2,AC.blue,0.7],[yellowBi2,AC.yellow,0.8],[redBi2,AC.red,0.9]], 'linear');
addLines(15, tBi, [[cyanBi3,AC.cyan,0.8],[blueBi3,AC.blue,0.7],[yellowBi3,AC.yellow,0.8],[redBi3,AC.red,0.9]], 'linear');
[[16,tCi1,inCi1],[17,tCi2,inCi2],[18,tCi3,inCi3]].forEach(s => traces.push({
  type: 'scatter', mode: 'lines', x: s[1], y: s[2], xaxis: 'x' + s[0], yaxis: 'y' + s[0],
  fill: 'tozeroy', fillcolor: 'rgba(140,140,140,0.55)', line: {color: '#333', width: 0.7, shape: 'spline', smoothing: 0.5},
  hoverinfo: 'skip'
}));

// ---------- Panel D ----------
const barSlots = [0.67, 2.1, 3.17, 4.23, 5.36];
L.xaxis19 = {domain: [fx(160), fx(357)], range: [0,6], anchor: 'y19', showline: true, linecolor: '#999', linewidth: 1.2,
  ticks: '', showticklabels: false, showgrid: false, zeroline: false};
L.yaxis19 = {domain: [fy(513), fy(441)], range: [0,1.42], anchor: 'x19', showline: true, linecolor: '#222', linewidth: 0.9,
  ticks: 'outside', ticklen: 3, tick0: 0, dtick: 0.2, tickformat: '.1f', tickfont: {size: 8.5, color:'#222'}, showgrid: false, zeroline: false};
traces.push({type: 'bar', x: barSlots, y: dValues, width: 0.95, xaxis: 'x19', yaxis: 'y19',
  marker: {color: ['#b0b0b0','#e3203a','#45e24e','#45e24e','#111'], line: {color: ['#999','#b01628','#2a8a2c','#2a8a2c','#111'], width: 1}},
  error_y: {type: 'data', array: dErrors, visible: true, color: '#333', thickness: 1, width: 9},
  hoverinfo: 'skip'});
dLabels.forEach((lab, i) => L.annotations.push({xref: 'x19', yref: 'paper', x: barSlots[i], y: fy(517.5), text: lab,
  showarrow: false, xanchor: 'center', yanchor: 'top', font: {family: FONT, size: 7.3, color: '#111'}, align: 'center'}));

[[247,318,539,534],[210,318,572,567]].forEach(b => {
  L.shapes.push({type:'line', xref:'paper', yref:'paper', x0: fx(b[0]), x1: fx(b[1]), y0: fy(b[2]), y1: fy(b[2]), line:{color:'#222', width:0.9}});
  L.shapes.push({type:'line', xref:'paper', yref:'paper', x0: fx(b[0]), x1: fx(b[0]), y0: fy(b[2]), y1: fy(b[3]), line:{color:'#222', width:0.9}});
  L.shapes.push({type:'line', xref:'paper', yref:'paper', x0: fx(b[1]), x1: fx(b[1]), y0: fy(b[2]), y1: fy(b[3]), line:{color:'#222', width:0.9}});
});
txt(282, 541.5, 'System perturbation<br>22 h after initiation<br>by HGF', {ya: 'top', size: 7.3});
txt(263, 580, '1.5 h HGF single pulse', {size: 7.5});

// ---------- Legend (drawn box) ----------
L.shapes.push({type:'rect', xref:'paper', yref:'paper', x0: fx(147), x1: fx(383), y0: fy(426), y1: fy(399), line:{color:'#444', width:0.8}});
const legX = [154, 197, 245, 294, 347];
[[legendRow1, 407],[legendRow2, 417.5]].forEach(row => {
  row[0].forEach((g, k) => {
    L.shapes.push({type:'line', xref:'paper', yref:'paper', x0: fx(legX[k]), x1: fx(legX[k] + 12), y0: fy(row[1]), y1: fy(row[1]),
      line:{color: GC[g], width: 2}});
    txt(legX[k] + 14, row[1], '<i>' + g + '</i>', {xa: 'left', size: 8});
  });
});

// ---------- Text labels ----------
txt(66, 9, '<b>A</b>', {size: 11});
txt(66, 141, '<b>B</b>', {size: 11});
txt(66, 275, '<b>C</b>', {size: 11});
txt(135, 442, '<b>D</b>', {size: 11});
txt(32, 53.5, 'First<br>input', {size: 8.5});
txt(31, 185, 'First and second<br>input', {size: 8});
txt(31, 314, 'First and second<br>input<br>with<br>second input<br>inhibition', {size: 8});
txt(71, 55, 'Fold expression', {ang: -90, size: 9.5});
txt(71, 188, 'Fold expression', {ang: -90, size: 9.5});
txt(71, 320, 'Fold expression', {ang: -90, size: 9.5});
txt(137, 477, 'Rel. migration', {ang: -90, size: 8.5});
[142, 283, 424].forEach(x => { txt(x, 120, 'Time (h)'); txt(x, 253, 'Time (h)'); txt(x, 391, 'Time (h)'); });
txt(97, 14, '<i>egr3</i>', {xa: 'left', size: 9.5});
txt(243, 14, '<i>ptgs2</i>', {xa: 'left', size: 9.5});
txt(380, 14, '<i>akap12</i>', {xa: 'left', size: 9.5});
txt(97, 142, '<i>egr3</i>', {xa: 'left', size: 9.5});
txt(236, 143, '<i>ptgs2</i>', {xa: 'left', size: 9.5});
txt(382, 144, '<i>akap12</i>', {xa: 'left', size: 9.5});
[98, 240, 382].forEach(x => txt(x, 285, 'Complete<br>network', {xa: 'left', align: 'left', size: 8.5}));
[[137,24],[282,24],[427,24]].forEach(p => txt(p[0], p[1], 'Input amplitude', {ang: -90, size: 5.5}));
[[170,57],[315,57],[458,57]].forEach(p => txt(p[0], p[1], 'Time (h)', {size: 5.5}));
[[138,160],[280,160],[425,161]].forEach(p => txt(p[0], p[1], 'Input amplitude', {ang: -90, size: 5.5}));
[[175,193],[316,190],[461,195]].forEach(p => txt(p[0], p[1], 'Time (h)', {size: 5.5}));
[[139,296],[285,292],[430,290]].forEach(p => txt(p[0], p[1], 'Input', {ang: -90, size: 5.5}));
[[176,329],[312,325],[470,321]].forEach(p => txt(p[0], p[1], 'Time (h)', {size: 5.5}));

Plotly.newPlot('chart', traces, L, {staticPlot: true, displayModeBar: false});
</script></body></html>
